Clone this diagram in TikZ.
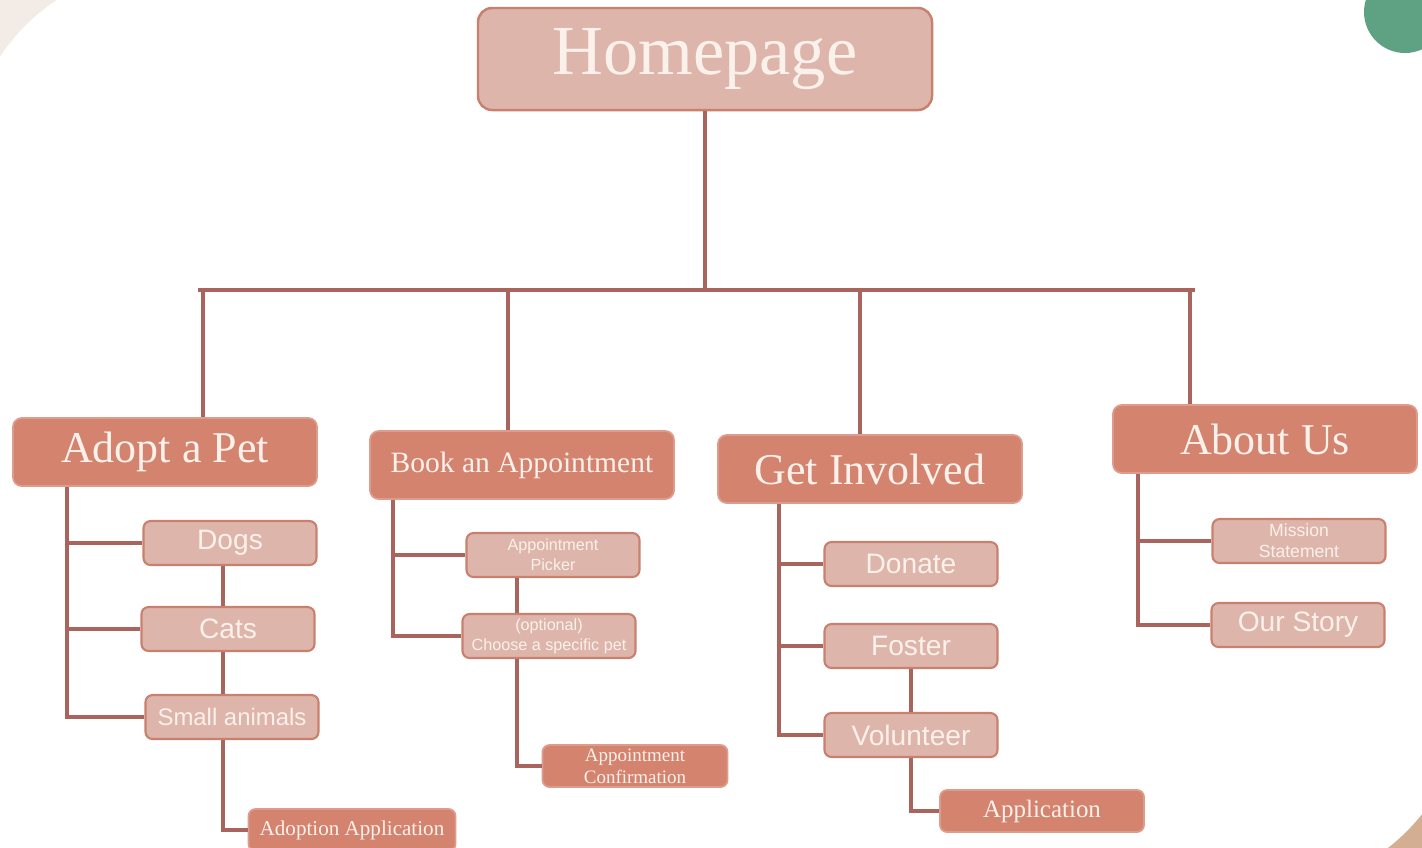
\documentclass[tikz,border=0pt]{standalone}
\usepackage{fontspec}
\setmainfont{Liberation Serif}
\setsansfont{Liberation Sans}
\usepackage{tikz}
\definecolor{cizgi}{HTML}{A9655D}
\definecolor{acikKutu}{HTML}{DDB5AB}
\definecolor{acikKenar}{HTML}{C9806F}
\definecolor{koyuKutu}{HTML}{D4836F}
\definecolor{koyuKenar}{HTML}{DD9C8C}
\definecolor{yazi}{HTML}{FBF1EB}
\definecolor{zeminBej}{HTML}{F3ECE6}
\definecolor{zeminTen}{HTML}{D4AE93}
\definecolor{yesil}{HTML}{5FA283}

\begin{document}
\begin{tikzpicture}[x=0.01cm,y=-0.01cm,
  anaKutu/.style={draw=acikKenar,line width=0.7pt,fill=acikKutu,rounded corners=4pt,
    text=yazi,minimum width=454*0.01cm,minimum height=102*0.01cm,
    font=\fontsize{20}{24}\selectfont},
  bolum/.style={draw=koyuKenar,line width=0.5pt,fill=koyuKutu,rounded corners=2.5pt,
    text=yazi,minimum width=304*0.01cm,minimum height=68*0.01cm,inner sep=0pt},
  altKutu/.style={draw=acikKenar,line width=0.6pt,fill=acikKutu,rounded corners=2pt,
    text=yazi,minimum width=173*0.01cm,minimum height=44*0.01cm,inner sep=0pt,
    align=center,font=\sffamily\fontsize{8}{9.6}\selectfont},
  kucukYazi/.style={font=\sffamily\fontsize{4.6}{5.6}\selectfont},
  sonKutu/.style={draw=koyuKenar,line width=0.5pt,fill=koyuKutu,rounded corners=2pt,
    text=yazi,minimum height=42*0.01cm,inner sep=0pt,align=center},
  govde/.style={cizgi,line width=1.4pt},
  dal/.style={cizgi,line width=1.05pt}]
\useasboundingbox (0,0) rectangle (1422,847);
% zemin
\fill[white] (0,0) rectangle (1422,847);
\fill[zeminBej] (0,0) rectangle (120,120);
\fill[white] (167,167) circle (200);
\fill[white] (167,-5) rectangle (300,300);
\fill[white] (-5,167) rectangle (300,300);
\fill[zeminTen] (1330,760) rectangle (1425,850);
\fill[white] (1265,690) circle (200);
\fill[white] (1200,600) rectangle (1265,850);
\fill[white] (1200,600) rectangle (1425,690);
\fill[yesil] (1405,12) circle (41);

% ana sayfa
\node[anaKutu] (home) at (705,59) {Homepage};

% bolumler
\node[bolum,font=\fontsize{12.5}{15}\selectfont] (adopt) at (165,452) {Adopt a Pet};
\node[bolum,font=\fontsize{8.4}{10}\selectfont] (book) at (522,465) {Book an Appointment};
\node[bolum,font=\fontsize{12.5}{15}\selectfont] (involved) at (870,469) {Get Involved};
\node[bolum,font=\fontsize{12.5}{15}\selectfont] (about) at (1265,439) {About Us};

% ust cubuk
\coordinate (barL) at (198,290);
\coordinate (barR) at (1195,290);
\coordinate (dropA) at (203,290);
\coordinate (dropB) at (508,290);
\coordinate (dropC) at (860,290);
\coordinate (dropD) at (1190,290);
\draw[govde] (home.south) -- (home.south |- barL);
\draw[govde] (barL) -- (barR);
\draw[dal] (dropA) -- (dropA |- adopt.north);
\draw[dal] (dropB) -- (dropB |- book.north);
\draw[dal] (dropC) -- (dropC |- involved.north);
\draw[dal] (dropD) -- (dropD |- about.north);

% Adopt a Pet
\node[altKutu] (dogs) at (230,543) {Dogs};
\node[altKutu] (cats) at (228,629) {Cats};
\node[altKutu,font=\sffamily\fontsize{6.8}{8}\selectfont] (small) at (232,717) {Small animals};
\node[sonKutu,minimum width=207*0.01cm,font=\fontsize{6}{7}\selectfont] (adoptApp) at (352,830) {Adoption Application};
\coordinate (spineA) at (67,500);
\draw[dal] (spineA |- adopt.south) |- (small.west);
\draw[dal] (spineA |- dogs.west) -- (dogs.west);
\draw[dal] (spineA |- cats.west) -- (cats.west);
\coordinate (stemA) at (223,700);
\draw[dal] (stemA |- dogs.south) -- (stemA |- cats.north);
\draw[dal] (stemA |- cats.south) -- (stemA |- small.north);
\draw[dal] (stemA |- small.south) |- (adoptApp.west);

% Book an Appointment
\node[altKutu,kucukYazi] (picker) at (553,555) {Appointment\\Picker};
\node[altKutu,kucukYazi] (choose) at (549,636) {(optional)\\Choose a specific pet};
\node[sonKutu,minimum width=185*0.01cm,font=\fontsize{5.4}{6.2}\selectfont] (confirm) at (635,766) {Appointment\\Confirmation};
\coordinate (spineB) at (393,560);
\draw[dal] (spineB |- book.south) |- (choose.west);
\draw[dal] (spineB |- picker.west) -- (picker.west);
\coordinate (stemB) at (517,700);
\draw[dal] (stemB |- picker.south) -- (stemB |- choose.north);
\draw[dal] (stemB |- choose.south) |- (confirm.west);

% Get Involved
\node[altKutu] (donate) at (911,564) {Donate};
\node[altKutu] (foster) at (911,646) {Foster};
\node[altKutu] (volunteer) at (911,735) {Volunteer};
\node[sonKutu,minimum width=204*0.01cm,font=\fontsize{7.1}{8.5}\selectfont] (volApp) at (1042,811) {Application};
\coordinate (spineC) at (779,600);
\draw[dal] (spineC |- involved.south) |- (volunteer.west);
\draw[dal] (spineC |- donate.west) -- (donate.west);
\draw[dal] (spineC |- foster.west) -- (foster.west);
\draw[dal] (foster.south) -- (volunteer.north);
\draw[dal] (volunteer.south) |- (volApp.west);

% About Us
\node[altKutu,font=\sffamily\fontsize{5}{6}\selectfont] (mission) at (1299,541) {Mission\\Statement};
\node[altKutu] (story) at (1298,625) {Our Story};
\coordinate (spineD) at (1138,560);
\draw[dal] (spineD |- about.south) |- (story.west);
\draw[dal] (spineD |- mission.west) -- (mission.west);
\end{tikzpicture}
\end{document}
